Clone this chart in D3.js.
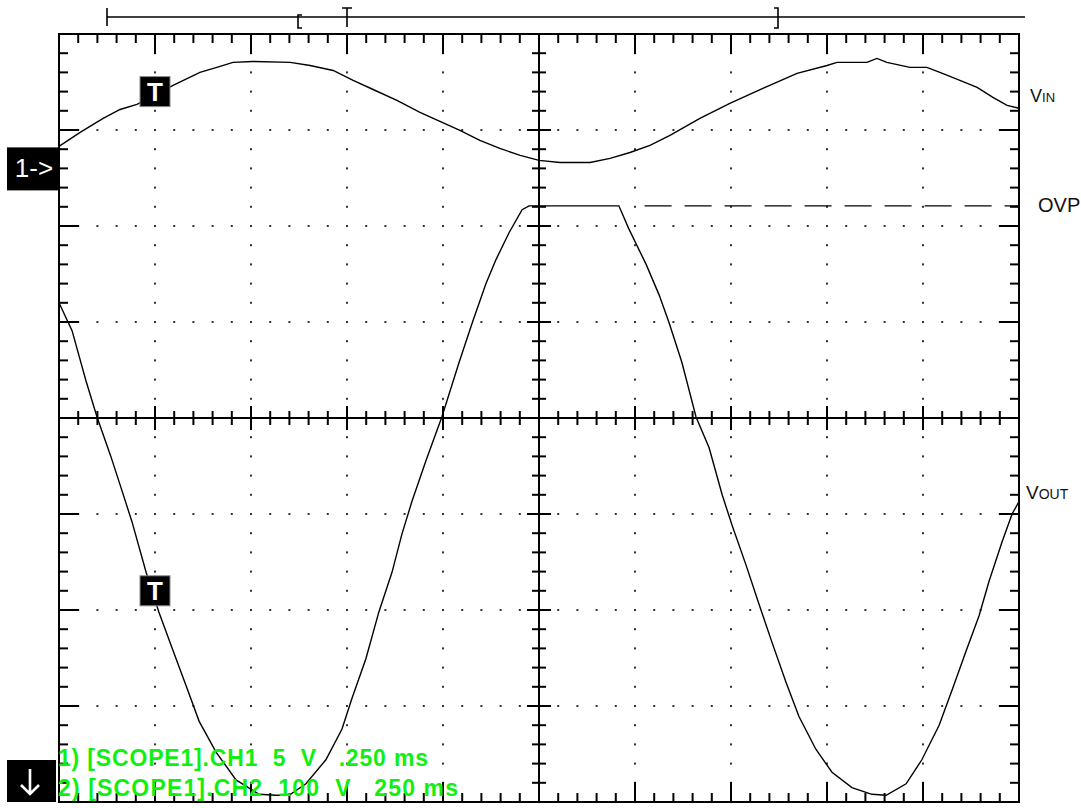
<!DOCTYPE html>
<html>
<head>
<meta charset="utf-8">
<script src="https://cdn.jsdelivr.net/npm/d3@7"></script>
<style>
  body { margin: 0; background: #fff; }
  svg { display: block; font-family: "Liberation Sans", Arial, sans-serif; }
</style>
</head>
<body>
<svg id="canvas" width="1081" height="808"></svg>
<script>
// time base: 10 div x 250 ms
let timeRange = [0, 2.5]

// CH1 (Vin) 5 V/div, samples
let vinTime = [0, 0.055, 0.115, 0.159, 0.203, 0.297, 0.367, 0.411, 0.453, 0.505, 0.602, 0.654, 0.714, 0.766, 0.818, 0.880, 0.940, 0.992, 1.044, 1.096, 1.148, 1.201, 1.250, 1.305, 1.383, 1.435, 1.487, 1.539, 1.591, 1.669, 1.747, 1.833, 1.922, 2.000, 2.026, 2.104, 2.130, 2.156, 2.216, 2.260, 2.294, 2.346, 2.391, 2.432, 2.469, 2.500]
let vinVolts = [1.15, 1.88, 2.60, 3.07, 3.33, 4.32, 5.00, 5.26, 5.52, 5.57, 5.52, 5.36, 5.10, 4.58, 4.11, 3.54, 2.92, 2.45, 1.98, 1.46, 1.04, 0.68, 0.42, 0.31, 0.31, 0.52, 0.83, 1.20, 1.72, 2.60, 3.39, 4.17, 4.95, 5.36, 5.52, 5.52, 5.73, 5.52, 5.26, 5.26, 5.00, 4.58, 4.22, 3.70, 3.28, 3.13]

// CH2 (Vout) 100 V/div
let voutTime = [0, 0.034, 0.070, 0.099, 0.135, 0.161, 0.190, 0.227, 0.260, 0.294, 0.331, 0.365, 0.409, 0.461, 0.521, 0.565, 0.599, 0.643, 0.695, 0.737, 0.763, 0.799, 0.833, 0.867, 0.893, 0.919, 0.956, 0.997, 1.042, 1.076, 1.112, 1.138, 1.172, 1.206, 1.224, 1.253, 1.458, 1.484, 1.529, 1.563, 1.589, 1.622, 1.659, 1.693, 1.727, 1.753, 1.789, 1.823, 1.857, 1.893, 1.927, 1.971, 2.013, 2.065, 2.117, 2.154, 2.206, 2.247, 2.292, 2.326, 2.362, 2.396, 2.422, 2.456, 2.482, 2.500]
let voutVolts = [570, 541, 489, 451, 410, 378, 342, 289, 248, 211, 171, 134, 102, 73, 58, 57, 57, 69, 94, 126, 158, 199, 248, 289, 329, 363, 406, 451, 508, 549, 590, 615, 643, 667, 671, 671, 671, 647, 610, 578, 549, 508, 451, 419, 370, 338, 297, 256, 216, 175, 139, 105, 81, 65, 58, 57, 69, 94, 130, 167, 207, 244, 280, 321, 350, 363]

// OVP reference level and trigger point
let ovpLevel = 671
let ovpStart = 1.525
let triggerTime = 0.25
let triggerLevels = [4.0, 270]

let channelLabels = ['1) [SCOPE1].CH1  5  V   .250 ms', '2) [SCOPE1].CH2  100  V   250 ms']

let svg = d3.select('#canvas')

let x = d3.scaleLinear().domain(timeRange).range([59, 1019])
let yDiv = d3.scaleLinear().domain([-4, 4]).range([802, 34])
// CH1 ground 2.6 div above centre, CH2 ground 4.5 div below centre
let y1 = d3.scaleLinear().domain([-5 * 6.6, 5 * 1.4]).range([802, 34])
let y2 = d3.scaleLinear().domain([50, 850]).range([802, 34])

let gLeft = x(0), gRight = x(2.5), gTop = yDiv(4), gBottom = yDiv(-4)
let cx = x(1.25), cy = yDiv(0)

let minorT = d3.range(0, 2.5001, 0.05)
let majorT = d3.range(0.25, 2.4999, 0.25)
let minorD = d3.range(-4, 4.001, 0.2)
let majorD = d3.range(-3, 3.001, 1)

// dotted grid
let grid = svg.append('g').attr('fill', '#333')
majorD.forEach(d => {
    minorT.slice(1, -1).forEach(t => {
        grid.append('rect').attr('x', x(t) - 1).attr('y', yDiv(d) - 1).attr('width', 2).attr('height', 2)
    })
})
majorT.forEach(t => {
    minorD.slice(1, -1).forEach(d => {
        grid.append('rect').attr('x', x(t) - 1).attr('y', yDiv(d) - 1).attr('width', 2).attr('height', 2)
    })
})

let axes = svg.append('g').attr('stroke', '#000').attr('stroke-width', 2)

// edge ticks
minorT.forEach(t => {
    let isMajor = Math.abs((t / 0.25) - Math.round(t / 0.25)) < 1e-6
    let len = isMajor ? 20 : 9
    axes.append('line').attr('x1', x(t)).attr('x2', x(t)).attr('y1', gTop).attr('y2', gTop + len)
    axes.append('line').attr('x1', x(t)).attr('x2', x(t)).attr('y1', gBottom).attr('y2', gBottom - len)
    let cl = isMajor ? 12 : 7
    axes.append('line').attr('x1', x(t)).attr('x2', x(t)).attr('y1', cy - cl).attr('y2', cy + cl)
})
minorD.forEach(d => {
    let isMajor = Math.abs(d - Math.round(d)) < 1e-6
    let len = isMajor ? 20 : 9
    axes.append('line').attr('y1', yDiv(d)).attr('y2', yDiv(d)).attr('x1', gLeft).attr('x2', gLeft + len)
    axes.append('line').attr('y1', yDiv(d)).attr('y2', yDiv(d)).attr('x1', gRight).attr('x2', gRight - len)
    let cl = isMajor ? 12 : 7
    axes.append('line').attr('y1', yDiv(d)).attr('y2', yDiv(d)).attr('x1', cx - cl).attr('x2', cx + cl)
})

// centre cross and frame
axes.append('line').attr('x1', gLeft).attr('x2', gRight).attr('y1', cy).attr('y2', cy)
axes.append('line').attr('x1', cx).attr('x2', cx).attr('y1', gTop).attr('y2', gBottom)
axes.append('rect').attr('x', gLeft).attr('y', gTop).attr('width', gRight - gLeft).attr('height', gBottom - gTop).attr('fill', 'none')

// record bar at the top
let bar = svg.append('g').attr('stroke', '#000').attr('stroke-width', 1.6).attr('fill', 'none')
bar.append('line').attr('x1', 107).attr('x2', 1025).attr('y1', 17).attr('y2', 17)
bar.append('line').attr('x1', 107).attr('x2', 107).attr('y1', 8).attr('y2', 26)
bar.append('path').attr('d', 'M302,15 H298 V28 H302')
bar.append('path').attr('d', 'M342,8 H352 M347,8 V27')
bar.append('path').attr('d', 'M774,8 H778 V28 H774')

// traces
let vinLine = d3.line().x((d, i) => x(vinTime[i])).y(d => y1(d))
let voutLine = d3.line().x((d, i) => x(voutTime[i])).y(d => y2(d))

svg.append('path').attr('d', vinLine(vinVolts))
    .attr('fill', 'none').attr('stroke', '#000').attr('stroke-width', 1.4)
svg.append('path').attr('d', voutLine(voutVolts))
    .attr('fill', 'none').attr('stroke', '#000').attr('stroke-width', 1.4)

svg.append('line')
    .attr('x1', x(ovpStart)).attr('x2', gRight)
    .attr('y1', y2(ovpLevel)).attr('y2', y2(ovpLevel))
    .attr('stroke', '#000').attr('stroke-width', 1.3).attr('stroke-dasharray', '27,13')

// trigger markers
let trigY = [y1(triggerLevels[0]), y2(triggerLevels[1])]
trigY.forEach(ty => {
    let g = svg.append('g').attr('transform', 'translate(' + x(triggerTime) + ',' + ty + ')')
    g.append('rect').attr('x', -15).attr('y', -15).attr('width', 30).attr('height', 30)
        .attr('fill', '#000').attr('stroke', '#888').attr('stroke-width', 1)
    g.append('text').attr('text-anchor', 'middle').attr('y', 9.5)
        .attr('fill', '#fff').attr('font-size', 26).attr('font-weight', 'bold').text('T')
})

// channel 1 ground marker
let gnd = svg.append('g').attr('transform', 'translate(7,' + y1(0) + ')')
gnd.append('rect').attr('x', 0).attr('y', -21).attr('width', 52).attr('height', 43).attr('fill', '#000')
gnd.append('text').attr('x', 27).attr('y', 9).attr('text-anchor', 'middle')
    .attr('fill', '#fff').attr('font-size', 26).text('1->')

// channel 2 off-screen marker
let off = svg.append('g')
off.append('rect').attr('x', 7).attr('y', 760).attr('width', 49).attr('height', 42).attr('fill', '#000')
off.append('path').attr('d', 'M30,769 V794 M21,785 L30,794 L39,785')
    .attr('stroke', '#fff').attr('stroke-width', 2.6).attr('fill', 'none')

// green status lines
let statusWidth = [370, 400]
svg.selectAll('.status').data(channelLabels).enter().append('text')
    .attr('class', 'status')
    .attr('x', 58).attr('y', (d, i) => 766 + i * 30)
    .attr('fill', '#10f010').attr('font-size', 23).attr('font-weight', 'bold')
    .attr('textLength', (d, i) => statusWidth[i]).attr('lengthAdjust', 'spacing')
    .style('white-space', 'pre')
    .text(d => d)

// right-hand labels
let vin = svg.append('text').attr('x', 1030).attr('y', 102).attr('fill', '#111')
vin.append('tspan').attr('font-size', 18).text('V')
vin.append('tspan').attr('font-size', 13).text('IN')

svg.append('text').attr('x', 1038).attr('y', 212).attr('fill', '#111').attr('font-size', 20).text('OVP')

let vout = svg.append('text').attr('x', 1026).attr('y', 499).attr('fill', '#111')
vout.append('tspan').attr('font-size', 19).text('V')
vout.append('tspan').attr('font-size', 14).text('OUT')
</script>
</body>
</html>
